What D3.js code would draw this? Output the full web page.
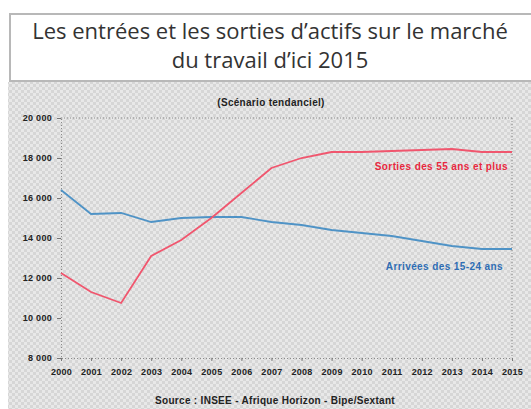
<!DOCTYPE html>
<html>
<head>
<meta charset="utf-8">
<script src="https://cdn.jsdelivr.net/npm/d3@7"></script>
<style>
  body { margin: 0; background: #fff; }
  svg { display: block; }
</style>
</head>
<body>
<svg id="chart"></svg>
<script>
// data
const years = [2000, 2001, 2002, 2003, 2004, 2005, 2006, 2007, 2008, 2009, 2010, 2011, 2012, 2013, 2014, 2015];
const sorties = [12250, 11300, 10750, 13100, 13900, 15000, 16250, 17500, 18000, 18300, 18300, 18350, 18400, 18450, 18300, 18300];
const arrivees = [16400, 15200, 15250, 14800, 15000, 15050, 15050, 14800, 14650, 14400, 14250, 14100, 13850, 13600, 13450, 13450];
const yTicks = [8000, 10000, 12000, 14000, 16000, 18000, 20000];
const seriesNames = ["Sorties des 55 ans et plus", "Arrivées des 15-24 ans"];

const W = 531, H = 409;
const svg = d3.select("#chart").attr("width", W).attr("height", H);

// checker pattern background
const defs = svg.append("defs");
const pat = defs.append("pattern")
    .attr("id", "checker")
    .attr("width", 6).attr("height", 6)
    .attr("patternUnits", "userSpaceOnUse");
pat.append("rect").attr("width", 6).attr("height", 6).attr("fill", "#d6d6d6");
pat.append("rect").attr("x", 0).attr("y", 0).attr("width", 3).attr("height", 3).attr("fill", "#e8e8e8");
pat.append("rect").attr("x", 3).attr("y", 3).attr("width", 3).attr("height", 3).attr("fill", "#e8e8e8");

svg.append("rect")
    .attr("x", 8).attr("y", 82)
    .attr("width", W - 8).attr("height", H - 82)
    .attr("fill", "url(#checker)");

// title box
svg.append("rect")
    .attr("x", 10).attr("y", 14)
    .attr("width", W).attr("height", 67)
    .attr("fill", "#fff")
    .attr("stroke", "#b8b8b8")
    .attr("stroke-width", 2);

const title = svg.append("text")
    .attr("text-anchor", "middle")
    .style("font-family", "'Open Sans', sans-serif")
    .style("font-size", "22px")
    .attr("fill", "#333");
title.append("tspan").attr("x", 270).attr("y", 39).text("Les entrées et les sorties d\u2019actifs sur le marché");
title.append("tspan").attr("x", 270).attr("y", 68).text("du travail d\u2019ici 2015");

// chart area
const margin = { left: 61, right: 512, top: 118, bottom: 358 };

const x = d3.scalePoint()
    .domain(years)
    .range([margin.left, margin.right]);

const y = d3.scaleLinear()
    .domain([8000, 20000])
    .range([margin.bottom, margin.top]);

const g = svg.append("g");

// dotted frame
const frame = g.append("g")
    .attr("stroke", "#8a8a8a")
    .attr("stroke-width", 1)
    .attr("stroke-dasharray", "1,2")
    .attr("fill", "none");
frame.append("line").attr("x1", margin.left).attr("x2", margin.right).attr("y1", margin.top).attr("y2", margin.top);
frame.append("line").attr("x1", margin.right).attr("x2", margin.right).attr("y1", margin.top).attr("y2", margin.bottom);

const fmt = d => d3.format(",")(d).replace(",", " ");

const yAxis = g.append("g")
    .attr("transform", `translate(${margin.left},0)`)
    .call(d3.axisLeft(y).tickValues(yTicks).tickSize(4).tickPadding(5).tickFormat(fmt));

const xAxis = g.append("g")
    .attr("transform", `translate(0,${margin.bottom})`)
    .call(d3.axisBottom(x).tickSize(3).tickPadding(8));

[yAxis, xAxis].forEach(a => {
  a.select(".domain").attr("stroke", "#8a8a8a").attr("stroke-dasharray", "1,2");
  a.selectAll(".tick line").attr("stroke", "#777");
  a.selectAll("text")
    .style("font-family", "'Liberation Sans', Arial, sans-serif")
    .style("font-size", "9px")
    .style("font-weight", "bold")
    .style("letter-spacing", "0.3px")
    .attr("fill", "#222");
});

// lines
const line = d3.line()
    .x((d, i) => x(years[i]))
    .y(d => y(d));

g.append("path")
    .datum(arrivees)
    .attr("fill", "none")
    .attr("stroke", "#4f93c6")
    .attr("stroke-width", 1.8)
    .attr("d", line);

g.append("path")
    .datum(sorties)
    .attr("fill", "none")
    .attr("stroke", "#f0566e")
    .attr("stroke-width", 1.8)
    .attr("d", line);

// labels
const labelStyle = sel => sel
    .attr("text-anchor", "end")
    .style("font-family", "'Liberation Sans', Arial, sans-serif")
    .style("font-size", "10px")
    .style("font-weight", "bold")
    .style("letter-spacing", "0.4px");

g.append("text")
    .attr("x", 508).attr("y", 170)
    .call(labelStyle)
    .attr("fill", "#e8283f")
    .text(seriesNames[0]);

g.append("text")
    .attr("x", 503).attr("y", 270)
    .call(labelStyle)
    .attr("fill", "#2e6db4")
    .text(seriesNames[1]);

// chart subtitle
g.append("text")
    .attr("x", 271).attr("y", 106)
    .attr("text-anchor", "middle")
    .style("font-family", "'Liberation Sans', Arial, sans-serif")
    .style("font-size", "10px")
    .style("font-weight", "bold")
    .style("letter-spacing", "0.3px")
    .attr("fill", "#222")
    .text("(Scénario tendanciel)");

// source
g.append("text")
    .attr("x", 275).attr("y", 404)
    .attr("text-anchor", "middle")
    .style("font-family", "'Liberation Sans', Arial, sans-serif")
    .style("font-size", "10px")
    .style("font-weight", "bold")
    .style("letter-spacing", "0.3px")
    .attr("fill", "#222")
    .text("Source : INSEE - Afrique Horizon - Bipe/Sextant");
</script>
</body>
</html>
